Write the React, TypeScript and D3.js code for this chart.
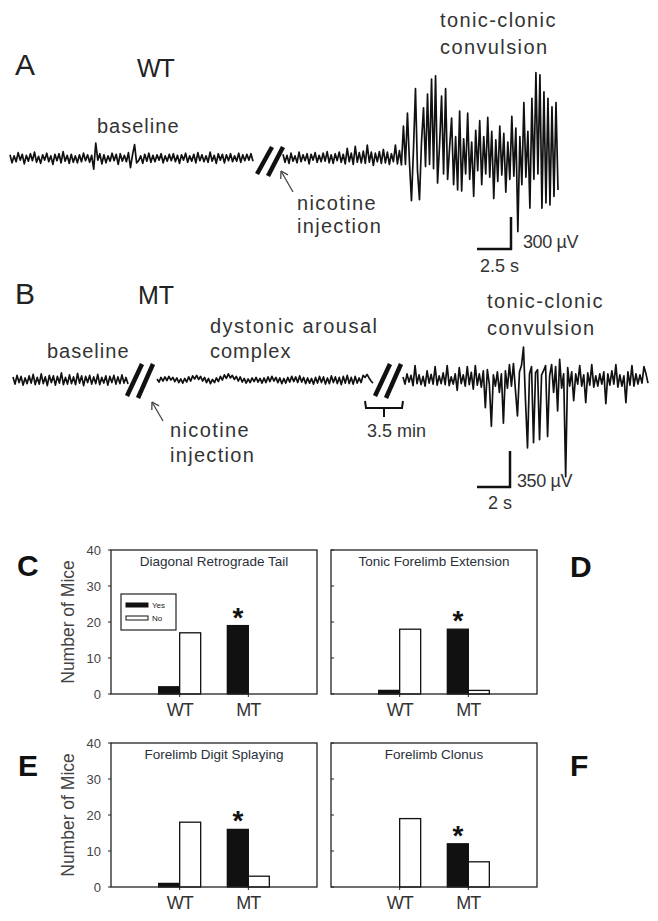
import React, { useRef, useEffect } from 'react';
import * as d3 from 'd3';

// EEG traces in µV (roughly one sample per 2 px)
const WT_BASELINE = [
  30, -45, 20, -35, 50, -20, 35, -55, 25, -30,
  40, -25, 55, -40, 15, -50, 30, -20, 45, -35,
  20, -60, 35, -25, 40, -45, 60, -30, 25, -50,
  35, -40, 20, -45, 30, -35, 45, -25, 30, -40,
  25, -105, 140, -20, 40, -55, 30, -45, 20, -30,
  45, -25, 35, -60, 40, -30, 25, -35, 50, -90,
  30, 125, -45, -25, 20, -50, 35, -30, 45, -40,
  25, -35, 30, -20, 40, -45, 20, -30, 35, -25,
  40, -35, 25, -50, 30, -20, 45, -40, 20, -30,
  35, -45, 50, -25, 30, -35, 20, -40, 55, -30,
  25, -50, 40, -20, 35, -45, 30, -25, 40, -35,
  20, -30, 45, -40, 30, -25, 35, -20, 40, -30,
];
const WT_POST = [
  35, -40, 25, -50, 45, -30, 20, -45, 55, -35,
  30, -25, 40, -55, 35, -20, 50, -40, 25, -35,
  45, -30, 60, -45, 30, -50, 40, -25, 55, -40,
  35, -55, 90, -35, 45, -60, 110, -40, 50, -45,
  65, -50, 120, -40, 55, -70, 45, -35, 60, -50,
  80, -45, 55, -60, 40, -35, 120, -55, 70, -65,
  300, -60, 420, -40, -400, 80, 650, -120, -390, 150,
  470, -80, 600, -60, 740, -100, 770, -235, 120, 580,
  -150, 650, -200, 100, 375, -250, 200, -300, 440, -310,
  180, -150, 420, -200, 150, -360, 260, -120, 350, -250,
  200, -150, 380, -180, 250, -380, 170, -220, 300, -160,
  230, -320, 150, -200, 390, -170, 280, -690, 200, -250,
  520, -180, 250, -470, 560, -200, 800, -150, 780, -470,
  620, -420, 560, -440, 480, -360, 520, -300,
];
const MT_BASELINE = [
  30, -40, 45, -25, 35, -50, 20, -35, 40, -30,
  55, -45, 25, -40, 60, -35, 30, -55, 45, -25,
  40, -50, 35, -30, 70, -45, 25, -40, 50, -35,
  30, -45, 65, -30, 40, -55, 35, -25, 45, -40,
  30, -35, 55, -45, 25, -30, 40, -50, 35, -25,
  45, -40, 30, -35, 50, -30, 25, -40,
];
const MT_DYSTONIC = [
  10, -20, 25, -10, 30, -5, 35, 0, 25, -15,
  20, -25, 10, -30, 15, -20, 30, -10, 40, 10,
  45, 5, 35, -10, 25, -25, 15, -35, 5, -25,
  20, -15, 35, 0, 50, 15, 60, 20, 45, 5,
  35, -10, 30, -20, 15, -30, 10, -25, 20, -15,
  25, -20, 15, -30, 20, -25, 30, -15, 35, -10,
  25, -25, 20, -35, 15, -30, 25, -20, 35, -15,
  30, -25, 40, -20, 25, -35, 20, -30, 15, -40,
  25, -30, 35, -25, 30, -40, 20, -35, 40, -25,
  30, -35, 25, -45, 35, -30, 45, -35, 25, -40,
  35, -30, 20, -25, 45, 25, 55, 20, -10, -30,
];
const MT_POST = [
  30, -40, 60, -20, 45, -55, 140, -35, 50, -45,
  35, -60, 90, -30, 55, -40, 130, -50, 40, -35,
  70, -45, 140, -55, 30, -40, 60, -100, 120, -35,
  50, -60, 130, -45, 75, -90, 140, -50, 60, -70,
  90, -270, 100, -40, -450, 50, -60, 80, -120, 60,
  -420, 90, -80, 150, -60, 160, -100, -350, 80, 140,
  320, -200, -660, 60, 130, -610, 70, 100, -580, 50,
  90, 140, -550, 40, 150, -120, 130, -300, 200, -80,
  60, -940, 120, -60, 80, -200, 60, -40, 140, -60,
  50, -220, 70, -50, 150, -70, 40, -60, 60, -40,
  80, -230, 60, -50, 90, -40, 150, -70, 50, -60,
  40, -220, 80, -50, 140, -60, 60, -40, 50, -30,
  130, 60, -30,
];

// bar panels C-F
const GENOTYPES = ['WT', 'MT'];
const ANSWERS = ['Yes', 'No'];
const Y_TICKS = [0, 10, 20, 30, 40];
const PANEL_TITLES = ['Diagonal Retrograde Tail', 'Tonic Forelimb Extension', 'Forelimb Digit Splaying', 'Forelimb Clonus'];
const YES_COUNTS = [[2, 19], [1, 18], [1, 16], [0, 12]];
const NO_COUNTS = [[17, 0], [18, 1], [18, 3], [19, 7]];

export default function App() {
  const svgRef = useRef<SVGSVGElement>(null);

  useEffect(() => {
    if (!svgRef.current) return;
    const svg = d3.select(svgRef.current);
    svg.selectAll('*').remove();
    const ink = '#111';
    const txt = '#333';
    const font = 'Arial, "Liberation Sans", sans-serif';

    const label = (x: number, y: number, s: string, size: number, o: any = {}) =>
      svg.append('text').attr('x', x).attr('y', y).attr('font-family', font).attr('font-size', size)
        .attr('fill', o.fill || txt).attr('letter-spacing', o.ls || 0).attr('font-weight', o.weight || 'normal')
        .attr('text-anchor', o.anchor || 'start').text(s);

    const trace = (values: number[], x0: number, x1: number, y: d3.ScaleLinear<number, number>) => {
      const x = d3.scaleLinear().domain([0, values.length - 1]).range([x0, x1]);
      const line = d3.line<number>().x((_, i) => x(i)).y(d => y(d));
      svg.append('path').attr('d', line(values)).attr('fill', 'none').attr('stroke', ink)
        .attr('stroke-width', 1.7).attr('stroke-linejoin', 'round');
    };
    const brk = (x: number, yTop: number, yBot: number) => {
      [[0, 0], [11, 2]].forEach(([dx, dy]) => {
        svg.append('line').attr('x1', x + dx).attr('y1', yBot + dy).attr('x2', x + dx + 15).attr('y2', yTop)
          .attr('stroke', ink).attr('stroke-width', 4.5);
      });
    };
    const arrow = (tx: number, ty: number, fx: number, fy: number) => {
      svg.append('line').attr('x1', fx).attr('y1', fy).attr('x2', tx).attr('y2', ty).attr('stroke', '#444').attr('stroke-width', 1.3);
      const a = Math.atan2(fy - ty, fx - tx);
      [-0.55, 0.55].forEach(d => {
        svg.append('line').attr('x1', tx).attr('y1', ty).attr('x2', tx + 8 * Math.cos(a + d)).attr('y2', ty + 8 * Math.sin(a + d))
          .attr('stroke', '#444').attr('stroke-width', 1.3);
      });
    };
    const scaleBar = (x: number, yb: number, v: number, h: number) => {
      svg.append('line').attr('x1', x).attr('x2', x).attr('y1', yb + 1).attr('y2', yb - v).attr('stroke', ink).attr('stroke-width', 2.5);
      svg.append('line').attr('x1', x - h).attr('x2', x + 1).attr('y1', yb).attr('y2', yb).attr('stroke', ink).attr('stroke-width', 2.5);
    };

    // ---- A: WT ----
    const yA = d3.scaleLinear().domain([0, 300]).range([158, 126]);
    const tA = d3.scaleLinear().domain([0, 2.5]).range([0, 34]);
    label(15, 75, 'A', 30, { fill: '#222' });
    label(137, 77, 'WT', 25, { fill: '#222', ls: -1 });
    label(97, 133, 'baseline', 20, { ls: 1 });
    trace(WT_BASELINE, 10, 253, yA);
    brk(257, 147, 174);
    trace(WT_POST, 283, 558, yA);
    arrow(281, 171, 293, 192);
    label(297, 210, 'nicotine', 20, { ls: 1.4 });
    label(297, 233, 'injection', 20, { ls: 1.3 });
    label(440, 27, 'tonic-clonic', 20, { ls: 1.4 });
    label(440, 54, 'convulsion', 20, { ls: 1.4 });
    scaleBar(511, 249, yA(0) - yA(300), tA(2.5));
    label(523, 248, '300 µV', 18, { ls: -0.4 });
    label(480, 272, '2.5 s', 18);

    // ---- B: MT ----
    const yB = d3.scaleLinear().domain([0, 350]).range([380, 344]);
    const tB = d3.scaleLinear().domain([0, 2]).range([0, 33]);
    label(15, 304, 'B', 30, { fill: '#222' });
    label(138, 304, 'MT', 25, { fill: '#222' });
    label(47, 358, 'baseline', 20, { ls: 1 });
    label(210, 333, 'dystonic arousal', 20, { ls: 1.5 });
    label(210, 358, 'complex', 20, { ls: 1 });
    trace(MT_BASELINE, 13, 128, yB);
    brk(127, 364, 396);
    trace(MT_DYSTONIC, 157, 373, yB);
    brk(375, 364, 396);
    trace(MT_POST, 403, 648, yB);
    arrow(152, 402, 163, 421);
    label(170, 437, 'nicotine', 20, { ls: 1.4 });
    label(170, 462, 'injection', 20, { ls: 1.3 });
    svg.append('path').attr('d', 'M365,401 L366,408 L402,408 L403,401 M384,408 L384,417')
      .attr('fill', 'none').attr('stroke', ink).attr('stroke-width', 2);
    label(367, 437, '3.5 min', 18, { ls: 0 });
    label(487, 308, 'tonic-clonic', 20, { ls: 1.4 });
    label(487, 335, 'convulsion', 20, { ls: 1.4 });
    scaleBar(510, 487, yB(0) - yB(350), tB(2));
    label(517, 487, '350 µV', 18, { ls: -0.4 });
    label(488, 509, '2 s', 18);

    // ---- C-F: bar panels ----
    const pw = 206, ph = 144;
    const panels = [
      { left: 111, top: 550, letter: 'C', lx: 17, ly: 576, axis: true, legend: true },
      { left: 331, top: 550, letter: 'D', lx: 570, ly: 577, axis: false, legend: false },
      { left: 111, top: 743, letter: 'E', lx: 18, ly: 776, axis: true, legend: false },
      { left: 331, top: 743, letter: 'F', lx: 570, ly: 776, axis: false, legend: false },
    ];
    const x = d3.scaleBand().domain(GENOTYPES).range([0, pw]).paddingInner(0).paddingOuter(0.5);
    const sub = d3.scaleBand().domain(ANSWERS).range([-21, 21]);
    const y = d3.scaleLinear().domain([0, 40]).range([ph, 0]);

    panels.forEach((p, k) => {
      label(p.lx, p.ly, p.letter, 30, { weight: 'bold', fill: '#111' });
      const g = svg.append('g').attr('transform', `translate(${p.left},${p.top})`);
      GENOTYPES.forEach((gt, j) => {
        const cx = (x(gt) as number) + x.bandwidth() / 2;
        const vals = [YES_COUNTS[k][j], NO_COUNTS[k][j]];
        ANSWERS.forEach((a, m) => {
          if (vals[m] <= 0) return;
          g.append('rect').attr('x', cx + (sub(a) as number)).attr('y', y(vals[m]))
            .attr('width', sub.bandwidth()).attr('height', ph - y(vals[m]))
            .attr('fill', m === 0 ? ink : '#fff').attr('stroke', ink).attr('stroke-width', 1.3);
        });
        g.append('line').attr('x1', cx).attr('x2', cx).attr('y1', ph).attr('y2', ph + 3).attr('stroke', '#222');
        g.append('text').attr('x', cx).attr('y', ph + 22).attr('text-anchor', 'middle').attr('font-family', font)
          .attr('font-size', 18).attr('fill', txt).attr('letter-spacing', -1).text(gt);
        if (gt === 'MT') {
          const ax = cx + (sub('Yes') as number) + sub.bandwidth() / 2;
          g.append('text').attr('x', ax).attr('y', y(vals[0]) + 1).attr('text-anchor', 'middle')
            .attr('font-family', font).attr('font-size', 28).attr('font-weight', 'bold').attr('fill', ink).text('*');
        }
      });
      g.append('rect').attr('width', pw).attr('height', ph).attr('fill', 'none').attr('stroke', '#222').attr('stroke-width', 1.3);
      g.append('text').attr('x', pw / 2).attr('y', 16).attr('text-anchor', 'middle').attr('font-family', font)
        .attr('font-size', 13.5).attr('fill', '#2a2f3a').text(PANEL_TITLES[k]);
      Y_TICKS.forEach(t => {
        g.append('line').attr('x1', p.axis ? -3 : 0).attr('x2', p.axis ? 0 : 3).attr('y1', y(t)).attr('y2', y(t)).attr('stroke', '#222');
        if (p.axis) {
          g.append('text').attr('x', -10).attr('y', y(t)).attr('dy', '0.35em').attr('text-anchor', 'end')
            .attr('font-family', font).attr('font-size', 13).attr('fill', '#444').text(t);
        }
      });
      if (p.axis) {
        g.append('text').attr('transform', `translate(-37,${ph / 2}) rotate(-90)`).attr('text-anchor', 'middle')
          .attr('font-family', font).attr('font-size', 17.5).attr('fill', '#444').text('Number of Mice');
      }
      if (p.legend) {
        const lg = g.append('g').attr('transform', 'translate(10,44)');
        lg.append('rect').attr('width', 55).attr('height', 36).attr('fill', '#fff').attr('stroke', '#222').attr('stroke-width', 1.2);
        ANSWERS.forEach((a, m) => {
          lg.append('rect').attr('x', 5).attr('y', 9 + m * 13).attr('width', 22).attr('height', 4)
            .attr('fill', m === 0 ? ink : '#fff').attr('stroke', ink).attr('stroke-width', 1);
          lg.append('text').attr('x', 31).attr('y', 14 + m * 13).attr('font-family', font).attr('font-size', 8)
            .attr('fill', '#222').text(a);
        });
      }
    });
  }, []);

  return (
    <div style={{ position: 'absolute', left: 0, top: 0, width: 658, height: 921, background: '#fff' }}>
      <svg ref={svgRef} width={658} height={921} style={{ display: 'block' }} />
    </div>
  );
}
